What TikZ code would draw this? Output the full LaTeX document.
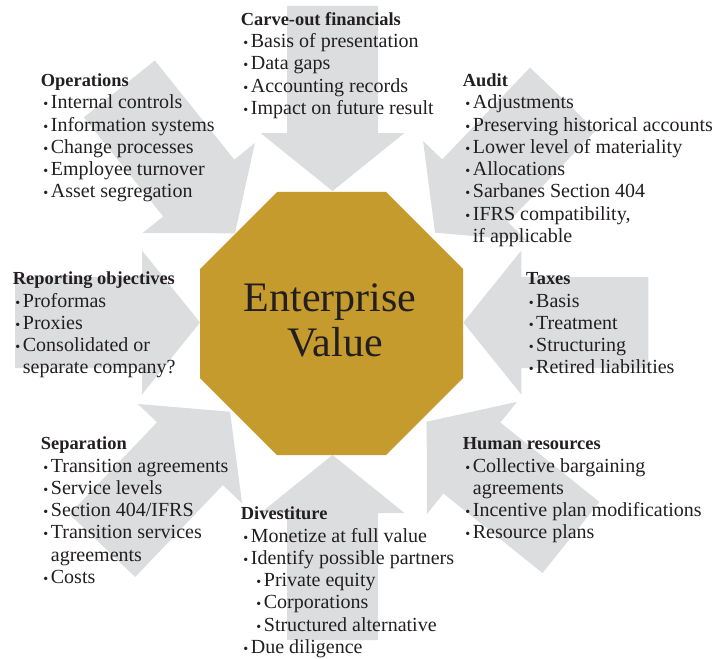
\documentclass[tikz,border=0pt]{standalone}
\usepackage{fontspec}
\setmainfont{Liberation Serif}
\definecolor{arrowgray}{RGB}{220,221,223}
\definecolor{evgold}{RGB}{198,155,46}
\definecolor{ink}{RGB}{35,31,32}
% list helpers
\newcommand\evdot{{\fontsize{14}{14}\selectfont\textbullet}}
\newcommand\evbul{\makebox[10pt][c]{\evdot}}
\newcommand\evcont{\hspace*{10pt}}
\newcommand\evsub{\hspace*{13pt}\makebox[10pt][c]{\evdot}}
\newcommand\evhead[1]{{\fontsize{18.4}{22.3}\selectfont\bfseries\rule{0pt}{16pt}#1}}
\begin{document}
\begin{tikzpicture}[x=1pt,y=-1pt,
  blockarrow/.pic={
    \fill[arrowgray] (0,0) -- (-58,-72) -- (-58,-45.5) -- (-185,-45.5)
      -- (-185,45.5) -- (-58,45.5) -- (-58,72) -- cycle;
  },
  topic/.style={anchor=north west, inner sep=0pt, align=left, text=ink,
    font=\fontsize{20}{22.3}\selectfont},
  bigword/.style={anchor=base, inner sep=0pt, text=ink,
    font=\fontsize{42}{44}\selectfont}
]
\useasboundingbox (0,0) rectangle (722,658);

% eight block arrows pointing at the centre
\pic[rotate=-90]     at (332.5,191)   {blockarrow};
\pic[rotate=90]      at (332.5,455)   {blockarrow};
\pic[rotate=0]       at (200,322.5)   {blockarrow};
\pic[rotate=180]     at (463.3,322.5) {blockarrow};
\pic[rotate=-51.3]   at (235,233.3)   {blockarrow};
\pic[rotate=-133.75] at (435,232.7)   {blockarrow};
\pic[rotate=46.35]   at (230,411.7)   {blockarrow};
\pic[rotate=-218.75] at (426.7,421.7) {blockarrow};

% central octagon
\fill[evgold] (277.1,191.9) -- (386.1,191.9) -- (463.2,269) -- (463.2,378)
  -- (386.1,455.1) -- (277.1,455.1) -- (200,378) -- (200,269) -- cycle;
\node[bigword] (ev1) at (330,311.7) {Enterprise};
\node[bigword] (ev2) at (335,356) {Value};

% topic lists
\node[topic] (carve) at (240.7,9.2) {\evhead{Carve-out financials}\\
  \evbul Basis of presentation\\
  \evbul Data gaps\\
  \evbul Accounting records\\
  \evbul Impact on future result};

\node[topic] (ops) at (40.7,70.2) {\evhead{Operations}\\
  \evbul Internal controls\\
  \evbul Information systems\\
  \evbul Change processes\\
  \evbul Employee turnover\\
  \evbul Asset segregation};

\node[topic] (audit) at (462.7,70.2) {\evhead{Audit}\\
  \evbul Adjustments\\
  \evbul Preserving historical accounts\\
  \evbul Lower level of materiality\\
  \evbul Allocations\\
  \evbul Sarbanes Section 404\\
  \evbul IFRS compatibility,\\
  \evcont if applicable};

\node[topic] (report) at (12.7,268.5) {\evhead{Reporting objectives}\\
  \evbul Proformas\\
  \evbul Proxies\\
  \evbul Consolidated or\\
  \evcont separate company?};

\node[topic] (taxes) at (526,268.5) {\evhead{Taxes}\\
  \evbul Basis\\
  \evbul Treatment\\
  \evbul Structuring\\
  \evbul Retired liabilities};

\node[topic] (sep) at (40.7,433.5) {\evhead{Separation}\\
  \evbul Transition agreements\\
  \evbul Service levels\\
  \evbul Section 404/IFRS\\
  \evbul Transition services\\
  \evcont agreements\\
  \evbul Costs};

\node[topic] (hr) at (462.7,433.5) {\evhead{Human resources}\\
  \evbul Collective bargaining\\
  \evcont agreements\\
  \evbul Incentive plan modifications\\
  \evbul Resource plans};

\node[topic] (divest) at (240.7,503.5) {\evhead{Divestiture}\\
  \evbul Monetize at full value\\
  \evbul Identify possible partners\\
  \evsub Private equity\\
  \evsub Corporations\\
  \evsub Structured alternative\\
  \evbul Due diligence};
\end{tikzpicture}
\end{document}
